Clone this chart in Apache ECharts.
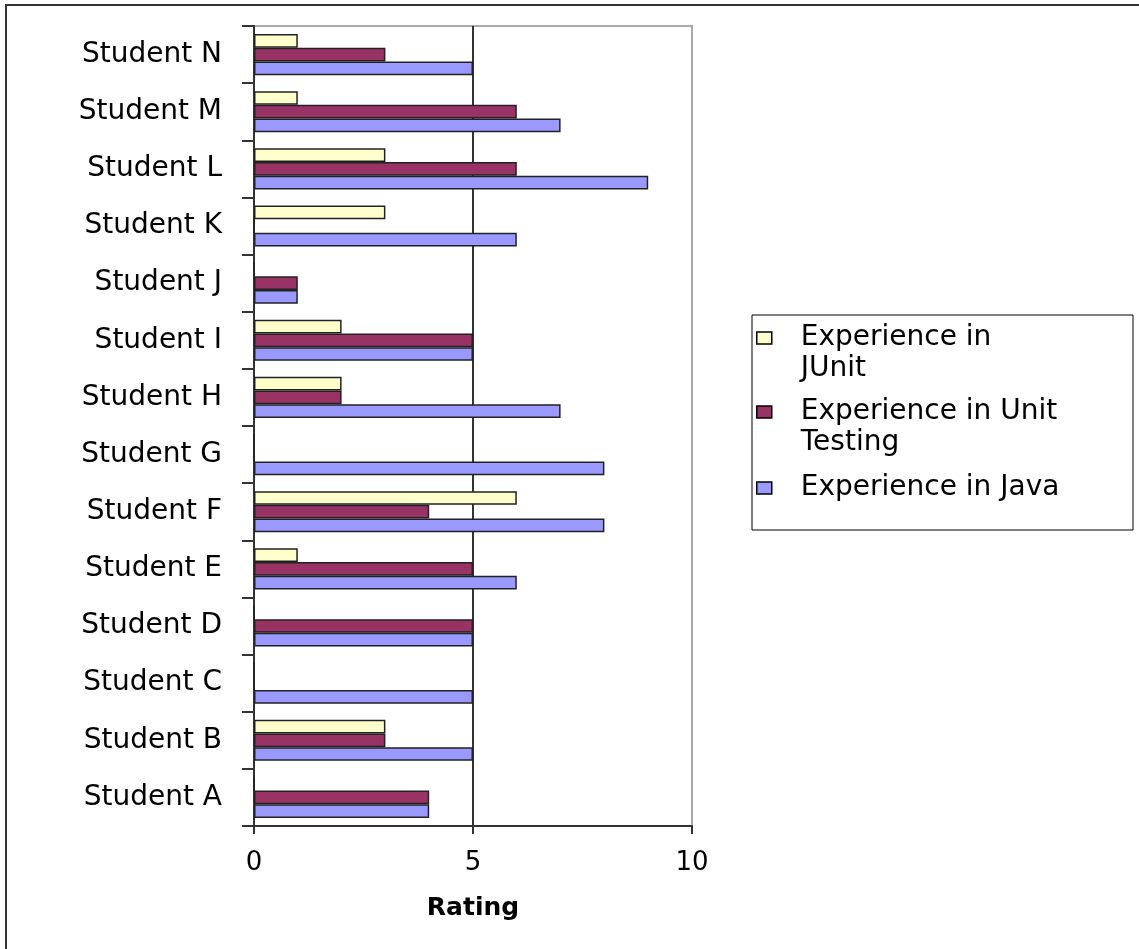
<!DOCTYPE html>
<html>
<head>
<meta charset="utf-8">
<title>Experience ratings</title>
<script src="https://cdn.jsdelivr.net/npm/echarts@6/dist/echarts.min.js"></script>
<style>
  html, body { margin: 0; padding: 0; background: #fff; }
  #chart { width: 1139px; height: 949px; }
</style>
</head>
<body>
<div id="chart"></div>
<script>
// students, bottom to top (category y axis starts at the bottom)
var students = ["Student A", "Student B", "Student C", "Student D", "Student E", "Student F", "Student G",
  "Student H", "Student I", "Student J", "Student K", "Student L", "Student M", "Student N"];

var junitExp = [0, 3, 0, 0, 1, 6, 0, 2, 2, 0, 3, 3, 1, 1];
var unitTestExp = [4, 3, 0, 5, 5, 4, 0, 2, 5, 1, 0, 6, 6, 3];
var javaExp = [4, 5, 5, 5, 6, 8, 8, 7, 5, 1, 6, 9, 7, 5];

var ratingTicks = [0, 5, 10];

var seriesNames = ["Experience in\nJUnit", "Experience in Unit\nTesting", "Experience in Java"];
var seriesColors = ["#FFFFCC", "#993366", "#9999FF"];

var FONT = "DejaVu Sans";
var LH = 31;

var chart = echarts.init(document.getElementById("chart"));

// one legend per entry so each marker sits level with the first text line
function legendFor(i, iconY, twoLines) {
  return {
    data: [seriesNames[i]],
    left: 756,
    top: twoLines ? iconY - 1.5 * LH : iconY - LH / 2,
    padding: 0,
    orient: "vertical",
    icon: "rect",
    itemWidth: 15,
    itemHeight: 12,
    selectedMode: false,
    formatter: function (name) {
      // blank first line pushes the two text lines down by one line
      return twoLines ? " \n" + name : name;
    },
    itemStyle: { borderColor: "#000", borderWidth: 1.5 },
    textStyle: {
      fontFamily: FONT,
      fontSize: 28,
      color: "#000",
      lineHeight: LH,
      padding: [0, 0, 0, 24]
    }
  };
}

function barSeries(i, values) {
  return {
    name: seriesNames[i],
    type: "bar",
    data: values,
    barGap: "0%",
    barCategoryGap: "28%",
    itemStyle: { color: seriesColors[i], borderColor: "#222", borderWidth: 1.5 }
  };
}

var option = {
  backgroundColor: "#fff",
  animation: false,
  graphic: [
    // outer frame (runs past the right/bottom edge like the picture)
    { type: "rect", shape: { x: 6, y: 5, width: 1150, height: 960 },
      style: { fill: "none", stroke: "#333", lineWidth: 2 }, z: -10 },
    // legend box
    { type: "rect", shape: { x: 752, y: 315, width: 381, height: 215 },
      style: { fill: "none", stroke: "#000", lineWidth: 1 } }
  ],
  legend: [
    legendFor(0, 338, true),
    legendFor(1, 412, true),
    legendFor(2, 488, false)
  ],
  grid: {
    left: 254,
    right: 1139 - 692,
    top: 26,
    bottom: 949 - 826,
    show: true,
    borderColor: "#aaa",
    borderWidth: 2,
    containLabel: false
  },
  xAxis: {
    type: "value",
    min: ratingTicks[0],
    max: ratingTicks[ratingTicks.length - 1],
    interval: ratingTicks[1] - ratingTicks[0],
    name: "Rating",
    nameLocation: "middle",
    nameGap: 70,
    nameTextStyle: { fontFamily: FONT, fontSize: 25, fontWeight: "bold", color: "#000", verticalAlign: "top" },
    axisLine: { show: true, lineStyle: { color: "#333", width: 2 } },
    axisTick: { show: true, length: 8, lineStyle: { color: "#333", width: 2 } },
    axisLabel: { fontFamily: FONT, fontSize: 26, color: "#000", margin: 24 },
    splitLine: { show: true, lineStyle: { color: ["#333", "#333", "#aaa"], width: 2 } }
  },
  yAxis: {
    type: "category",
    data: students,
    axisLine: { show: true, lineStyle: { color: "#333", width: 2 } },
    axisTick: { show: true, length: 12, lineStyle: { color: "#333", width: 2 } },
    axisLabel: { fontFamily: FONT, fontSize: 28, color: "#000", margin: 32 },
    splitLine: { show: false }
  },
  series: [
    barSeries(0, junitExp),
    barSeries(1, unitTestExp),
    barSeries(2, javaExp)
  ]
};

chart.setOption(option);
</script>
</body>
</html>
